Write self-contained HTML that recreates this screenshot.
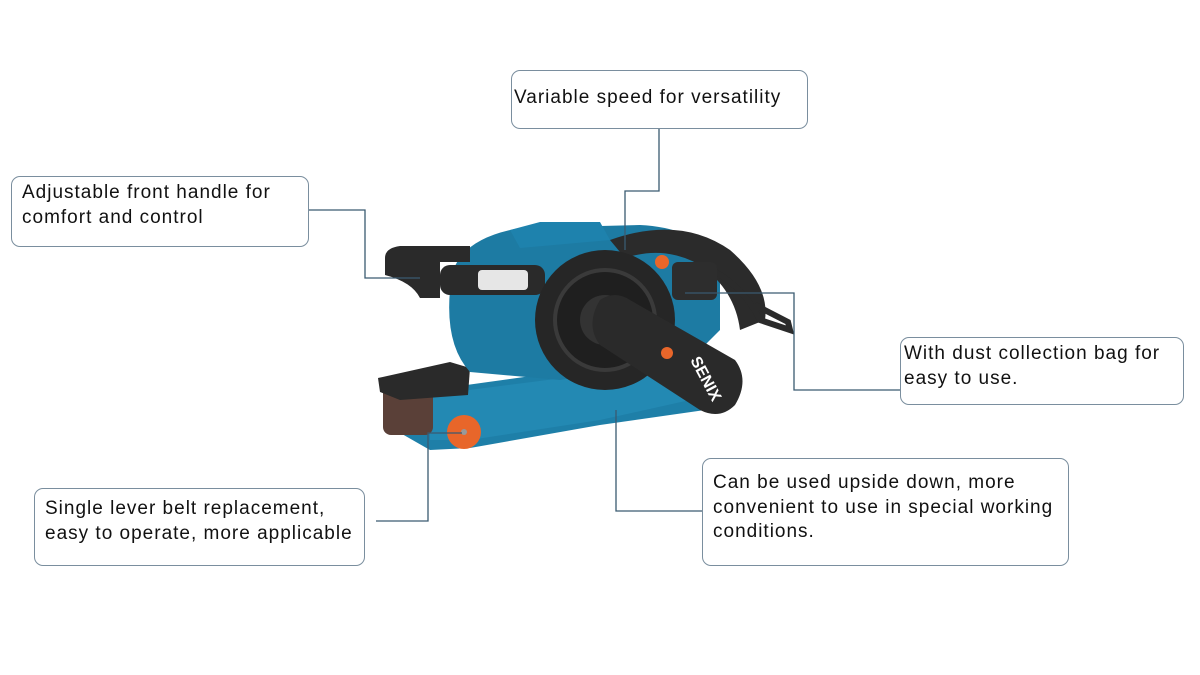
<!DOCTYPE html>
<html><head><meta charset="utf-8"><style>
body{margin:0;width:1200px;height:675px;background:#fff;position:relative;overflow:hidden;font-family:"Liberation Sans",sans-serif;}
.b{position:absolute;border:1.5px solid #7a8e9e;border-radius:9px;background:#fff;font-size:19px;line-height:24.5px;color:#111;letter-spacing:1px;box-sizing:border-box;white-space:nowrap;}
svg{position:absolute;left:0;top:0}
</style></head><body>
<svg width="1200" height="675">
<g>
<polygon points="395,395 610,365 700,360 705,410 600,425 470,448 430,450 395,430" fill="#1e7fa8"/>
<polygon points="430,395 610,372 690,372 690,400 600,420 470,440 430,440" fill="#2389b3"/>
<rect x="383" y="385" width="50" height="50" rx="8" fill="#5a4038"/>
<polygon points="378,378 450,362 470,368 468,395 400,400 380,392" fill="#2a2a2a"/>
<path d="M450,290 Q450,240 520,228 L640,225 Q700,228 720,265 L720,330 L690,360 L560,380 L470,372 Q445,345 450,290Z" fill="#1d7ba3"/>
<path d="M510,230 L540,222 L600,222 L610,240 L520,248Z" fill="#1e82ad"/>
<path d="M610,240 Q680,215 730,250 Q770,285 765,320 L740,330 Q735,290 700,265 Q665,245 625,258Z" fill="#2b2b2b"/>
<path d="M700,265 Q740,280 760,320 L790,330 L788,322 L755,305" fill="none" stroke="#2b2b2b" stroke-width="6"/>
<rect x="672" y="262" width="45" height="38" rx="6" fill="#2d2d2d"/>
<circle cx="662" cy="262" r="7" fill="#e8662a"/>
<path d="M385,258 Q385,248 400,246 L470,246 L470,262 L440,262 L440,298 L420,298 Q412,282 385,275Z" fill="#2a2a2a"/>
<rect x="440" y="265" width="105" height="30" rx="10" fill="#2a2a2a"/>
<rect x="478" y="270" width="50" height="20" rx="4" fill="#e6e6e6"/>
<circle cx="605" cy="320" r="70" fill="#262626"/>
<circle cx="605" cy="320" r="50" fill="#1f1f1f" stroke="#3a3a3a" stroke-width="4"/>
<circle cx="605" cy="320" r="25" fill="#333"/>
<path d="M600,300 Q615,290 630,300 L735,360 Q750,380 735,405 Q720,420 700,410 L600,345 Q585,325 600,300Z" fill="#2a2a2a"/>
<text x="690" y="360" transform="rotate(62 690 360)" font-size="16" font-weight="bold" fill="#fff" font-family="Liberation Sans,sans-serif">SENIX</text>
<circle cx="667" cy="353" r="6" fill="#e8662a"/>
<circle cx="464" cy="432" r="17" fill="#e8662a"/>
<circle cx="464" cy="432" r="3" fill="#999"/>
</g>
<g fill="none" stroke="#3a5a70" stroke-width="1.3">
<polyline points="659,128 659,191 625,191 625,250"/>
<polyline points="308,210 365,210 365,278 420,278"/>
<polyline points="900,390 794,390 794,293 685,293"/>
<polyline points="376,521 428,521 428,433 462,433"/>
<polyline points="702,511 616,511 616,410"/>
</g>
</svg>
<div class="b" style="left:511px;top:70px;width:297px;height:59px;padding:15px 0 0 2px">Variable speed for versatility</div>
<div class="b" style="left:11px;top:176px;width:298px;height:71px;padding:4px 0 0 10px">Adjustable front handle for<br>comfort and control</div>
<div class="b" style="left:900px;top:337px;width:284px;height:68px;padding:4px 0 0 3px">With dust collection bag for<br>easy to use.</div>
<div class="b" style="left:34px;top:488px;width:331px;height:78px;padding:8px 0 0 10px">Single lever belt replacement,<br>easy to operate, more applicable</div>
<div class="b" style="left:702px;top:458px;width:367px;height:108px;padding:12px 0 0 10px">Can be used upside down, more<br>convenient to use in special working<br>conditions.</div>
</body></html>
